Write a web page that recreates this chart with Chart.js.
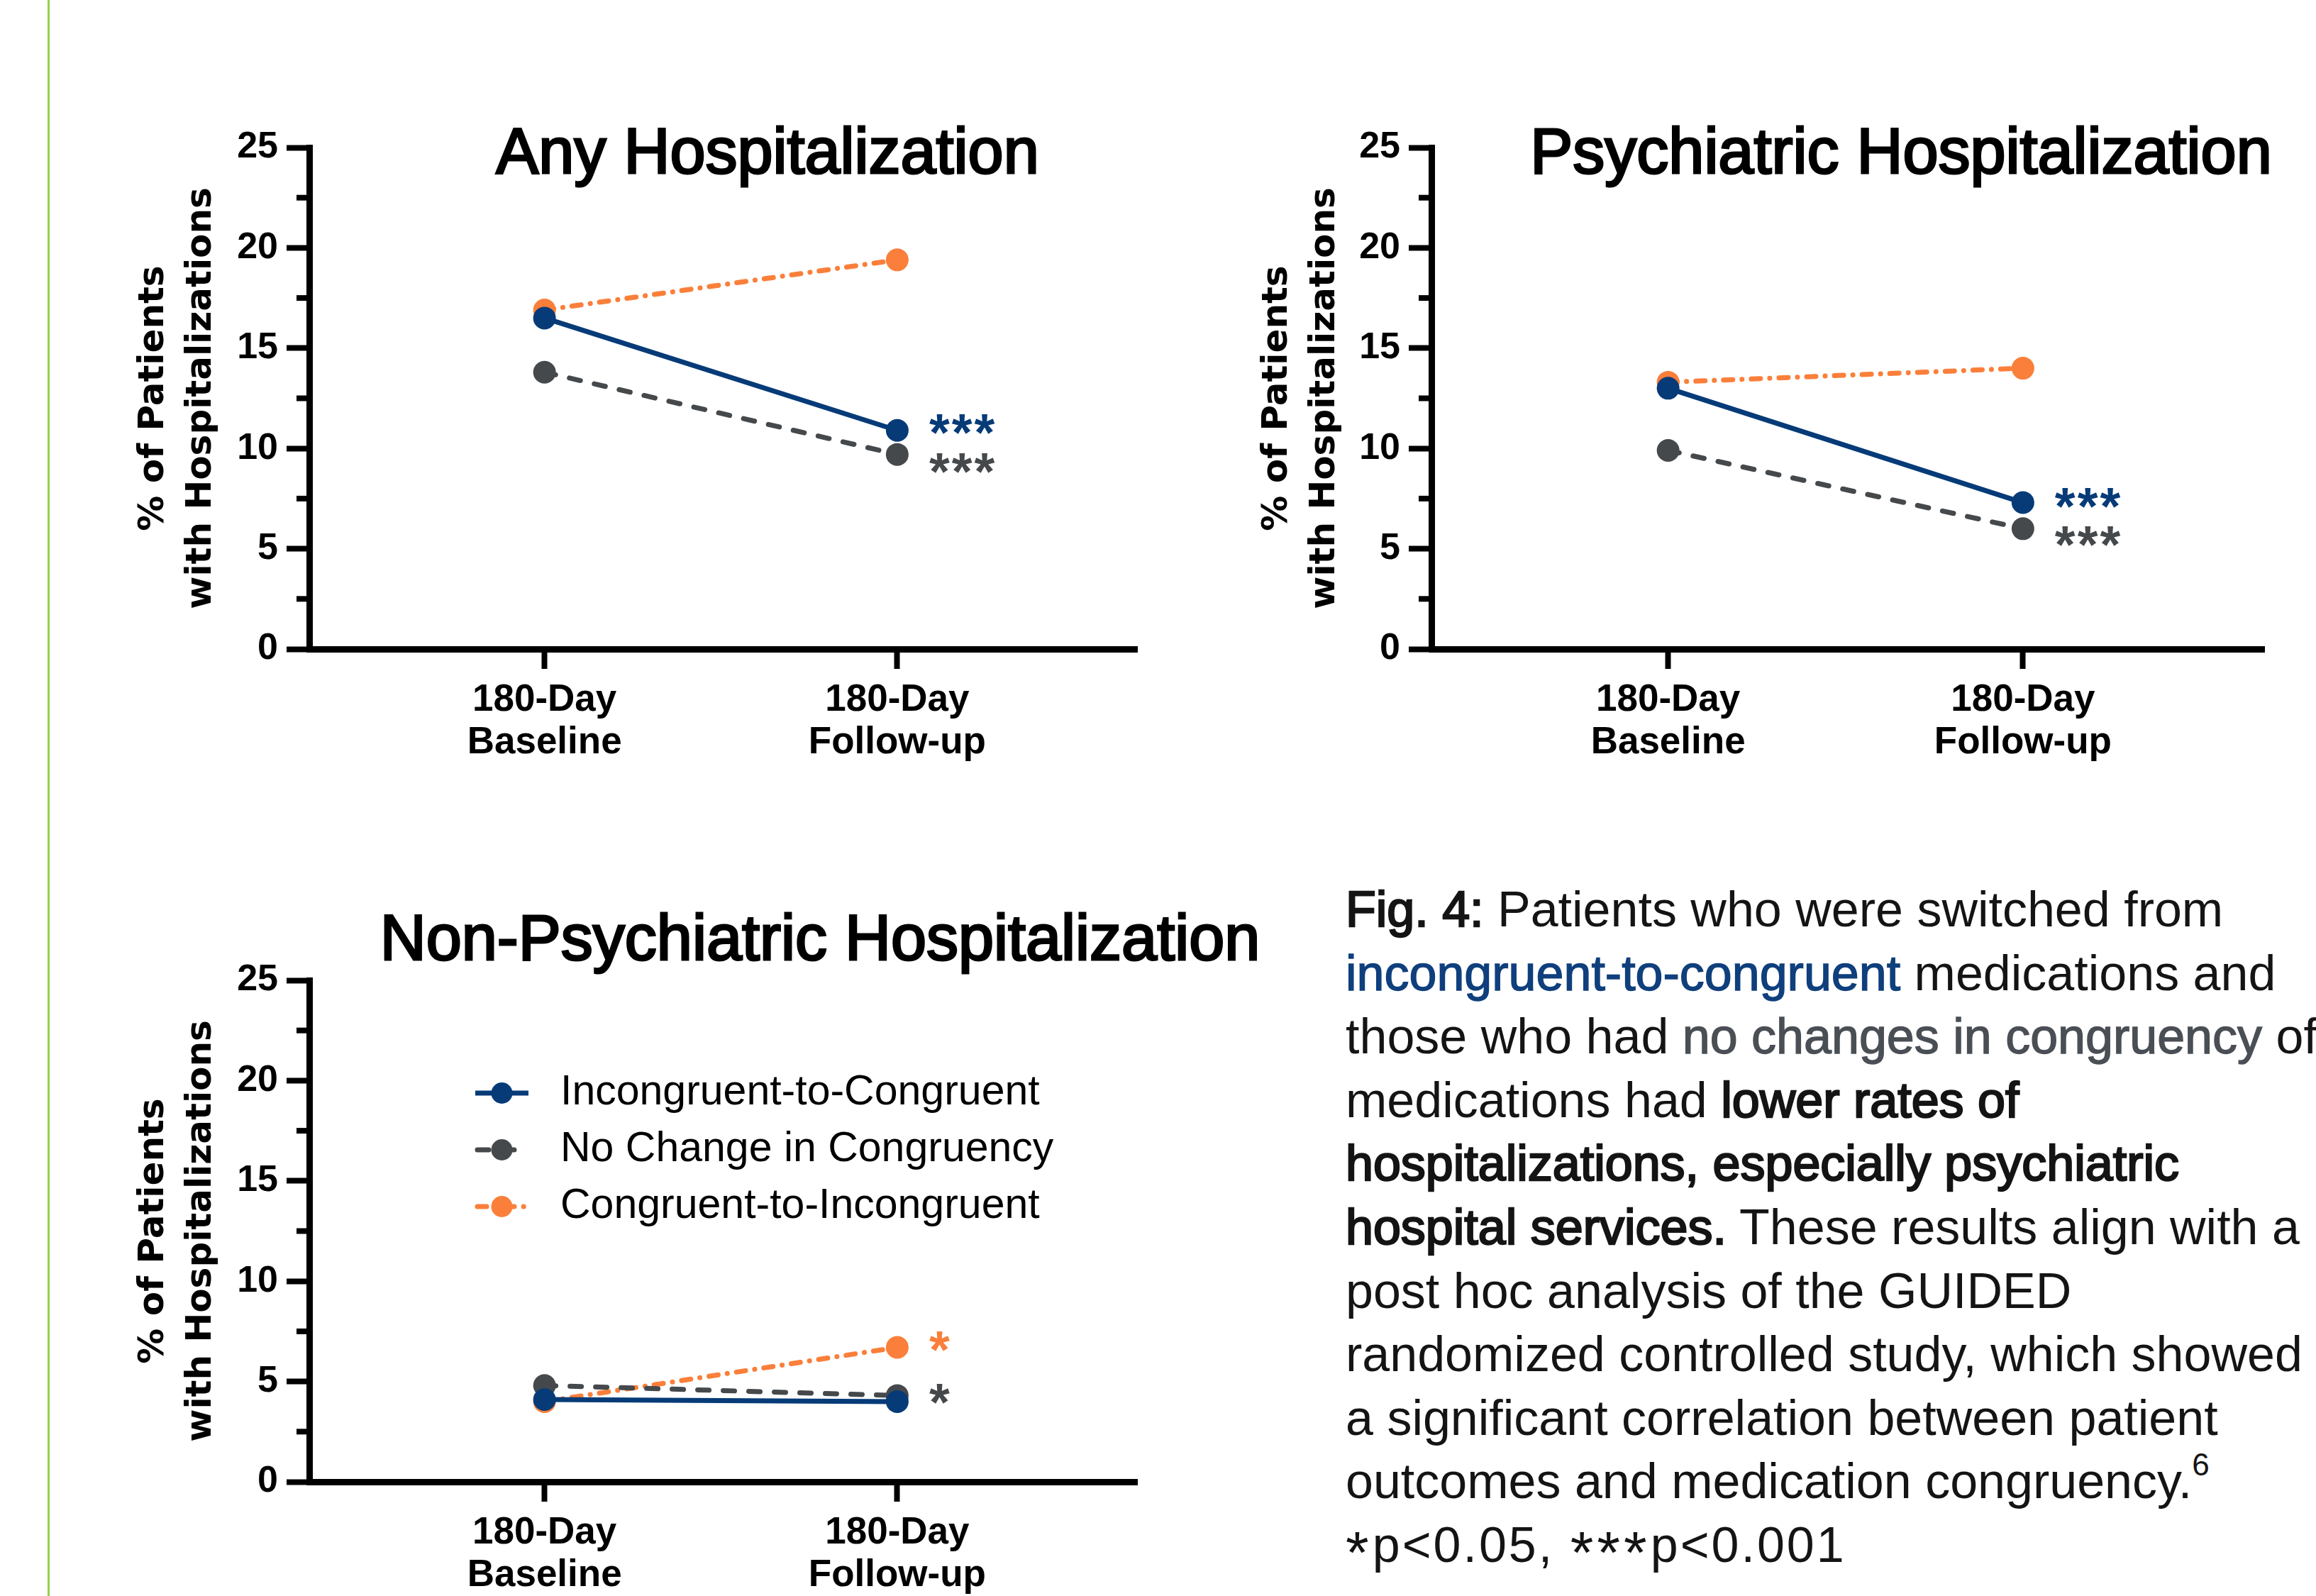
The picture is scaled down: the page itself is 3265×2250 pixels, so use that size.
<!DOCTYPE html>
<html>
<head>
<meta charset="utf-8">
<script src="https://cdn.jsdelivr.net/npm/chart.js@4.4.1/dist/chart.umd.min.js"></script>
<style>
  html, body { margin: 0; padding: 0; background: #fff; }
  body { width: 3265px; height: 2250px; position: relative; overflow: hidden; }
  canvas { position: absolute; }
  #rule { position: absolute; left: 67px; top: 0; width: 3px; height: 2250px; background: #93d150; }
  #caption {
    position: absolute; left: 1897px; top: 1238px;
    font-family: "Liberation Sans", Arial, sans-serif; font-size: 70px; line-height: 89.6px;
    white-space: nowrap; color: #141414;
  }
  #caption .b { -webkit-text-stroke: 2.4px #141414; }
  #caption .blue { color: #0f3f7c; -webkit-text-stroke: 1.4px #0f3f7c; }
  #caption .gray { color: #4a4f55; -webkit-text-stroke: 1.4px #4a4f55; }
  #caption sup { font-size: 44px; position: relative; top: -8px; line-height: 0; }
  #caption .pv { letter-spacing: 3px; }
  #caption .ast { font-size: 84px; position: relative; top: 16px; letter-spacing: 5px; line-height: 0; }
</style>
</head>
<body>
<div id="rule"></div>
<canvas id="c1"></canvas>
<canvas id="c2"></canvas>
<canvas id="c3"></canvas>
<div id="caption">
<span class="b">Fig. 4:</span> Patients who were switched from<br>
<span class="blue">incongruent-to-congruent</span> medications and<br>
those who had <span class="gray">no changes in congruency</span> of<br>
medications had <span class="b">lower rates of</span><br>
<span class="b">hospitalizations, especially psychiatric</span><br>
<span class="b">hospital services.</span> These results align with a<br>
post hoc analysis of the GUIDED<br>
randomized controlled study, which showed<br>
a significant correlation between patient<br>
outcomes and medication congruency.<sup>6</sup><br>
<span class="pv"><span class="ast">*</span>p&lt;0.05, <span class="ast">***</span>p&lt;0.001</span>
</div>
<script>
// categories and tick labels
const categories = [['180-Day', 'Baseline'], ['180-Day', 'Follow-up']];
const groups = ['Incongruent-to-Congruent', 'No Change in Congruency', 'Congruent-to-Incongruent'];
const yTicks = [0, 5, 10, 15, 20, 25];
const yMinorTicks = [2.5, 7.5, 12.5, 17.5, 22.5];

// Any Hospitalization (%)
const anyIncCon = [16.5, 10.9];
const anyNoChange = [13.8, 9.7];
const anyConInc = [16.9, 19.4];
const anySig = ['***', '***', ''];

// Psychiatric Hospitalization (%)
const psyIncCon = [13.0, 7.3];
const psyNoChange = [9.9, 6.0];
const psyConInc = [13.3, 14.0];
const psySig = ['***', '***', ''];

// Non-Psychiatric Hospitalization (%)
const nonIncCon = [4.1, 4.0];
const nonNoChange = [4.8, 4.3];
const nonConInc = [4.0, 6.7];
const nonSig = ['', '*', '*'];

const colors = ['#063b78', '#45494c', '#fa7f3a'];
const dashes = [[], [16, 20], [13, 13, 0.1, 13]];

Chart.defaults.font.family = '"Liberation Sans", Arial, sans-serif';

// titre du panneau, dessiné à la main pour le placer comme dans la figure
const panelTitle = {
  id: 'panelTitle',
  afterDraw(chart, args, opts) {
    const ctx = chart.ctx;
    ctx.save();
    ctx.font = '90px "Liberation Sans"';
    ctx.fillStyle = '#000';
    ctx.strokeStyle = '#000';
    ctx.lineWidth = 3;
    ctx.textAlign = 'center';
    ctx.textBaseline = 'alphabetic';
    ctx.fillText(opts.text, opts.x, opts.y);
    ctx.strokeText(opts.text, opts.x, opts.y);
    ctx.restore();
  }
};

// petites graduations entre les valeurs principales
const minorTicks = {
  id: 'minorTicks',
  afterDraw(chart) {
    const ctx = chart.ctx;
    const y = chart.scales.y;
    const left = chart.chartArea.left;
    ctx.save();
    ctx.strokeStyle = '#000';
    ctx.lineWidth = 8;
    yMinorTicks.forEach(v => {
      const py = y.getPixelForValue(v);
      ctx.beginPath();
      ctx.moveTo(left - 18, py);
      ctx.lineTo(left, py);
      ctx.stroke();
    });
    ctx.restore();
  }
};

// étoiles de significativité à côté du point de suivi
const sigMarks = {
  id: 'sigMarks',
  afterDatasetsDraw(chart, args, opts) {
    const ctx = chart.ctx;
    const size = 74;
    ctx.save();
    ctx.font = 'bold ' + size + 'px "Liberation Sans"';
    ctx.textAlign = 'left';
    ctx.textBaseline = 'alphabetic';
    ctx.letterSpacing = '3px';
    opts.labels.forEach((txt, i) => {
      if (!txt) return;
      const pt = chart.getDatasetMeta(i).data[1];
      ctx.fillStyle = chart.data.datasets[i].borderColor;
      ctx.fillText(txt, pt.x + opts.dx, pt.y + opts.dy[i] + 0.44 * size);
    });
    ctx.restore();
  }
};

// légende placée dans la zone du graphique
const insideLegend = {
  id: 'insideLegend',
  afterDraw(chart, args, opts) {
    if (!opts || !opts.rows) return;
    const ctx = chart.ctx;
    chart.data.datasets.forEach((ds, i) => {
      const y = opts.y + i * opts.gap;
      ctx.save();
      ctx.strokeStyle = ds.borderColor;
      ctx.lineWidth = 7;
      ctx.lineCap = ds.borderDash.length ? 'round' : 'butt';
      ctx.setLineDash(ds.borderDash);
      ctx.beginPath();
      ctx.moveTo(opts.x + (ds.borderDash.length ? 3 : 0), y);
      ctx.lineTo(opts.x + opts.len, y);
      ctx.stroke();
      ctx.setLineDash([]);
      ctx.fillStyle = ds.borderColor;
      ctx.beginPath();
      ctx.arc(opts.x + opts.len / 2, y, 15, 0, 2 * Math.PI);
      ctx.fill();
      ctx.fillStyle = '#000';
      ctx.font = '59px "Liberation Sans"';
      ctx.textAlign = 'left';
      ctx.textBaseline = 'middle';
      ctx.fillText(ds.label, opts.textX, y);
      ctx.restore();
    });
  }
};

function makePanel(cfg) {
  const canvas = document.getElementById(cfg.id);
  const box = cfg.box, a = cfg.area;
  canvas.width = box.w;
  canvas.height = box.h;
  canvas.style.left = box.x + 'px';
  canvas.style.top = box.y + 'px';

  const datasets = cfg.series.map((vals, i) => ({
    label: groups[i],
    data: vals.map((v, k) => ({ x: k, y: v })),
    borderColor: colors[i],
    backgroundColor: colors[i],
    pointBackgroundColor: colors[i],
    borderWidth: 7,
    borderDash: dashes[i],
    borderCapStyle: 'round',
    pointRadius: 16,
    pointHoverRadius: 16,
    pointBorderWidth: 0,
    clip: false
  }));

  return new Chart(canvas, {
    type: 'line',
    data: { datasets },
    plugins: [panelTitle, minorTicks, sigMarks, insideLegend],
    options: {
      responsive: false,
      animation: false,
      devicePixelRatio: 1,
      events: [],
      layout: { padding: { left: 0, top: a.top - box.y, right: box.x + box.w - a.right, bottom: 0 } },
      scales: {
        x: {
          type: 'linear',
          min: -0.667,
          max: 1.68,
          afterBuildTicks: s => { s.ticks = categories.map((c, i) => ({ value: i })); },
          afterFit: s => { s.height = box.y + box.h - a.bottom; },
          ticks: {
            callback: v => categories[v],
            color: '#000',
            font: { weight: 'bold', size: 53, lineHeight: 60 / 53 },
            padding: 14,
            maxRotation: 0,
            autoSkip: false
          },
          grid: { drawOnChartArea: false, drawTicks: true, tickLength: 28, tickWidth: 8, tickColor: '#000' },
          border: { color: '#000', width: 9 }
        },
        y: {
          min: 0,
          max: 25,
          afterBuildTicks: s => { s.ticks = yTicks.map(v => ({ value: v })); },
          afterFit: s => { s.width = a.left - box.x; },
          ticks: {
            color: '#000',
            font: { weight: 'bold', size: 52 },
            padding: 12
          },
          grid: { drawOnChartArea: false, drawTicks: true, tickLength: 32, tickWidth: 8, tickColor: '#000' },
          border: { color: '#000', width: 9 },
          title: {
            display: true,
            text: ['% of Patients', 'with Hospitalizations'],
            color: '#000',
            font: { family: '"DejaVu Sans", Verdana, sans-serif', weight: 'bold', size: 50, lineHeight: 67 / 50 },
            padding: { top: cfg.yTitleX - box.x - 33.5, bottom: 0 }
          }
        }
      },
      plugins: {
        legend: { display: false },
        tooltip: { enabled: false },
        panelTitle: { text: cfg.title, x: cfg.titleX - box.x, y: cfg.titleY - box.y },
        sigMarks: { labels: cfg.sig, dx: 45, dy: cfg.sigDy },
        insideLegend: cfg.legend || false
      }
    }
  });
}

makePanel({
  id: 'c1',
  box: { x: 0, y: 0, w: 1660, h: 1110 },
  area: { left: 436, right: 1603, top: 208, bottom: 915 },
  title: 'Any Hospitalization', titleX: 1082, titleY: 244,
  yTitleX: 217,
  series: [anyIncCon, anyNoChange, anyConInc],
  sig: anySig, sigDy: [-4, 17, 0]
});

makePanel({
  id: 'c2',
  box: { x: 1660, y: 0, w: 1605, h: 1110 },
  area: { left: 2018, right: 3192, top: 208, bottom: 915 },
  title: 'Psychiatric Hospitalization', titleX: 2680, titleY: 244,
  yTitleX: 1801,
  series: [psyIncCon, psyNoChange, psyConInc],
  sig: psySig, sigDy: [-2, 15, 0]
});

makePanel({
  id: 'c3',
  box: { x: 0, y: 1150, w: 1860, h: 1100 },
  area: { left: 436, right: 1603, top: 1382, bottom: 2089 },
  title: 'Non-Psychiatric Hospitalization', titleX: 1156, titleY: 1353,
  yTitleX: 217,
  series: [nonIncCon, nonNoChange, nonConInc],
  sig: nonSig, sigDy: [0, 2, -4],
  legend: { rows: true, x: 670, y: 391, gap: 80, len: 75, textX: 790 }
});
</script>
</body>
</html>
